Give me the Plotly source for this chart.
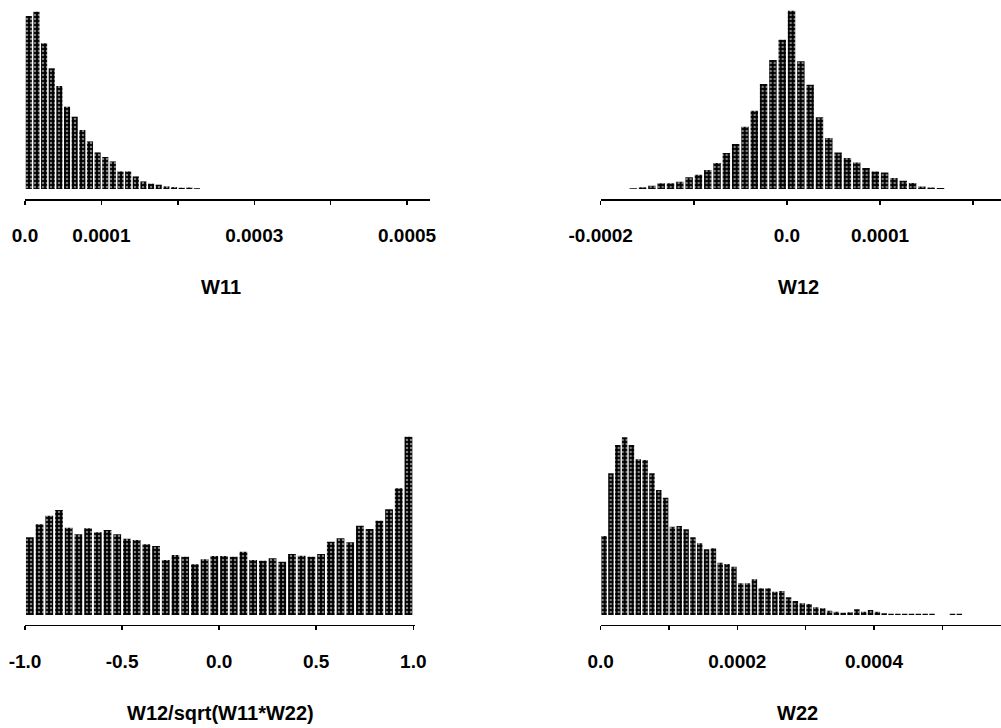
import numpy as np
import plotly.graph_objects as go

# ---------------- data (heights in arbitrary frequency units) ----------------
W11_START = 0.0
W11_BIN = 1e-5
W11_COUNTS = [173, 177.3, 145.7, 120.7, 103, 82.3, 72.3, 59, 47.6, 36.6,
              32, 27.6, 17.6, 17.6, 12.6, 7.6, 5.3, 4.3, 2.6, 1.9,
              1.3, 1.5, 0.8]
W11_TICKVALS = [0.0, 0.0001, 0.0002, 0.0003, 0.0004, 0.0005]
W11_TICKTEXT = ["0.0", "0.0001", "", "0.0003", "", "0.0005"]

W12_START = -0.00017
W12_BIN = 1e-5
W12_COUNTS = [0.8, 1.7, 3.3, 5.7, 5.7, 7.3, 11.7, 14.3, 19, 26,
              36, 45, 62.3, 78.3, 105, 129, 149.3,
              178.3, 127.7, 104.3, 71.7, 51, 36.6, 31, 26.6, 21, 17.6,
              16.6, 11, 8.3, 6, 2.6, 1.5, 1]
W12_TICKVALS = [-0.0002, -0.0001, 0.0, 0.0001, 0.0002]
W12_TICKTEXT = ["-0.0002", "", "0.0", "0.0001", ""]

CORR_START = -1.0
CORR_BIN = 0.05
CORR_COUNTS = [77.7, 90.7, 99.3, 105, 87.3, 80.7, 86.7, 82.7, 85, 80.7,
               76.3, 75, 70.7, 69, 55, 60, 58.3, 50.7, 55.7, 59,
               59, 58.3, 63.3, 55, 54.3, 56.7, 53.3, 61, 59.3, 58.3,
               61, 73.3, 76.7, 72.7, 89.3, 86, 94.3, 105.7, 126.7, 178.3]
CORR_TICKVALS = [-1.0, -0.5, 0.0, 0.5, 1.0]
CORR_TICKTEXT = ["-1.0", "-0.5", "0.0", "0.5", "1.0"]

W22_START = 0.0
W22_BIN = 1e-5
W22_COUNTS = [79, 141.7, 170, 177.7, 170, 155.7, 155, 141.7, 125, 117.3,
              88.3, 89, 85.7, 77.7, 71.7, 65.7, 66.7, 52.3, 51, 48.3,
              31.7, 31.7, 35.7, 26.7, 26.7, 23.3, 24, 17.7, 14, 11.7,
              11, 7.7, 6.7, 4.3, 3.3, 2.3, 2.7, 5.7, 3.3, 5,
              3.3, 1.7, 1.2, 1.2, 1.2, 1.2, 1.2, 1.2, 1.2, 0,
              0, 1.2, 1.2]
W22_TICKVALS = [0.0, 0.0001, 0.0002, 0.0003, 0.0004, 0.0005]
W22_TICKTEXT = ["0.0", "", "0.0002", "", "0.0004", ""]

TITLES = ["W11", "W12", "W12/sqrt(W11*W22)", "W22"]

# ---------------- layout (pixel geometry of the page) ----------------
W, H = 1001, 728


def fx(p):
    return p / W


def fy(p):
    return 1 - p / H


panels = [
    dict(start=W11_START, bin=W11_BIN, counts=W11_COUNTS, tv=W11_TICKVALS, tt=W11_TICKTEXT,
         xdom=(25, 430), xr=(0.0, 0.00053), ydom=(5, 199), yr=(-10, 184), tpos=(221, 287)),
    dict(start=W12_START, bin=W12_BIN, counts=W12_COUNTS, tv=W12_TICKVALS, tt=W12_TICKTEXT,
         xdom=(600.7, 1001), xr=(-0.0002, 0.00023), ydom=(5, 199), yr=(-10, 184), tpos=(798, 287)),
    dict(start=CORR_START, bin=CORR_BIN, counts=CORR_COUNTS, tv=CORR_TICKVALS, tt=CORR_TICKTEXT,
         xdom=(25, 415), xr=(-1.0, 1.0087), ydom=(430, 624.5), yr=(-9.5, 185), tpos=(220, 713)),
    dict(start=W22_START, bin=W22_BIN, counts=W22_COUNTS, tv=W22_TICKVALS, tt=W22_TICKTEXT,
         xdom=(600.7, 1001), xr=(0.0, 0.000586), ydom=(430, 624.5), yr=(-9.5, 185), tpos=(797, 713)),
]

FONT = "Liberation Sans, Arial, Helvetica, sans-serif"

fig = go.Figure()
layout = dict(
    template="none",
    width=W, height=H, autosize=False, margin=dict(l=0, r=0, t=0, b=0, pad=0, autoexpand=False),
    paper_bgcolor="white", plot_bgcolor="white", showlegend=False,
    bargap=0.2, annotations=[],
)

for i, p in enumerate(panels, start=1):
    n = len(p["counts"])
    centers = p["start"] + p["bin"] * (np.arange(n) + 0.5)
    xa = "x" if i == 1 else f"x{i}"
    ya = "y" if i == 1 else f"y{i}"
    fig.add_trace(go.Bar(
        x=centers, y=p["counts"], xaxis=xa, yaxis=ya,
        marker=dict(
            color="black", line=dict(width=0),
            pattern=dict(shape=".", fgcolor="white", bgcolor="black",
                         size=4, solidity=0.3, fillmode="overlay"),
        ),
        hoverinfo="skip",
    ))
    xkey = "xaxis" if i == 1 else f"xaxis{i}"
    ykey = "yaxis" if i == 1 else f"yaxis{i}"
    layout[xkey] = dict(
        domain=[fx(p["xdom"][0]), fx(p["xdom"][1])], range=list(p["xr"]),
        anchor=ya, automargin=False, showline=True, linecolor="black", linewidth=1.6,
        ticks="outside", ticklen=4, tickwidth=1.5, tickcolor="black",
        tickvals=p["tv"], ticktext=p["tt"], ticklabelstandoff=15,
        tickfont=dict(family=FONT, size=19, color="black", weight="bold"),
        showgrid=False, zeroline=False, fixedrange=True,
    )
    layout[ykey] = dict(
        domain=[fy(p["ydom"][1]), fy(p["ydom"][0])], range=list(p["yr"]),
        anchor=xa, automargin=False, visible=False, showgrid=False, zeroline=False,
        fixedrange=True,
    )
    layout["annotations"].append(dict(
        text=TITLES[i - 1], xref="paper", yref="paper",
        x=fx(p["tpos"][0]), y=fy(p["tpos"][1]), xanchor="center", yanchor="middle",
        showarrow=False, font=dict(family=FONT, size=20, color="black", weight="bold"),
    ))

fig.update_layout(**layout)
fig.write_html(
    "out.html",
    config={"displayModeBar": False, "staticPlot": True},
    post_script="document.body.style.margin='0px';document.body.style.overflow='hidden';",
)
